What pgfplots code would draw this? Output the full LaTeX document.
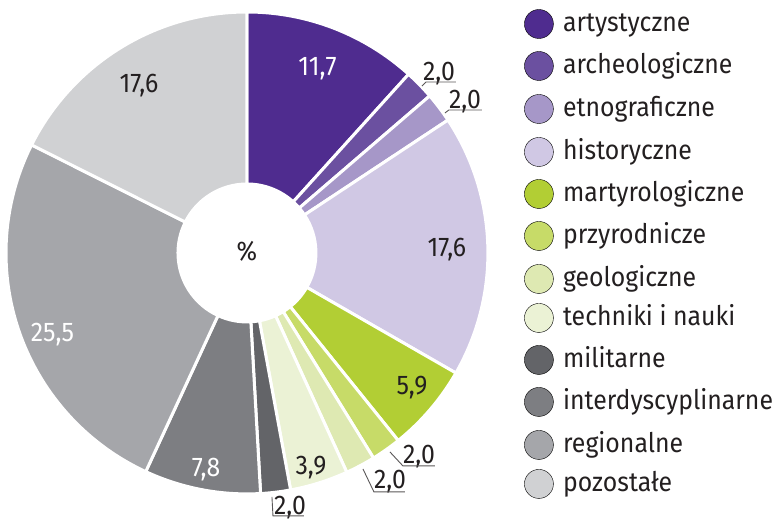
\documentclass[border=0pt]{standalone}
\usepackage{pgfplots}
\usepackage{pgfplotstable}
\pgfplotsset{compat=1.18}
\usepackage{fontspec}
\setmainfont{Fira Sans}[FakeStretch=0.92]

\definecolor{c1}{HTML}{4F2C8F}
\definecolor{c2}{HTML}{6B50A0}
\definecolor{c3}{HTML}{A697C8}
\definecolor{c4}{HTML}{D0C8E4}
\definecolor{c5}{HTML}{B2CE34}
\definecolor{c6}{HTML}{C7DB68}
\definecolor{c7}{HTML}{DEE9B2}
\definecolor{c8}{HTML}{EBF2D5}
\definecolor{c9}{HTML}{636468}
\definecolor{c10}{HTML}{7D7E82}
\definecolor{c11}{HTML}{A5A6AA}
\definecolor{c12}{HTML}{D0D1D3}
\definecolor{txt}{HTML}{231F20}

\pgfplotstableread{
value col
11.7 c1
2.0  c2
2.0  c3
17.6 c4
5.9  c5
2.0  c6
2.0  c7
3.9  c8
2.0  c9
7.8  c10
25.5 c11
17.6 c12
}\piedata

\newcommand\cx{247}
\newcommand\cy{270}
\newcommand\Ro{241}
\newcommand\Ri{69}

\begin{document}
\begin{tikzpicture}
\begin{axis}[x=1pt,y=1pt,xmin=0,xmax=773,ymin=0,ymax=523,
  hide axis,clip=false]
\path (axis cs:0,0) (axis cs:773,523);
\def\cum{0}
\pgfplotsforeachungrouped \i in {0,...,11}{%
  \pgfplotstablegetelem{\i}{value}\of\piedata
  \let\val\pgfplotsretval
  \pgfplotstablegetelem{\i}{col}\of\piedata
  \let\col\pgfplotsretval
  \pgfmathsetmacro\aone{90-3.6*\cum}%
  \pgfmathsetmacro\cum{\cum+\val}%
  \global\let\cum\cum
  \pgfmathsetmacro\atwo{90-3.6*\cum}%
  \edef\cmd{\noexpand\fill[fill=\col, draw=white, line width=3pt, line join=miter]
    (axis cs:{\cx+\Ro*cos(\aone)},{\cy+\Ro*sin(\aone)})
    arc[start angle=\aone, end angle=\atwo, radius=\Ro pt]
    -- (axis cs:{\cx+\Ri*cos(\atwo)},{\cy+\Ri*sin(\atwo)})
    arc[start angle=\atwo, end angle=\aone, radius=\Ri pt] -- cycle;}%
  \cmd
}

% value labels
\begin{scope}[every node/.style={font=\fontsize{27}{32}\selectfont, inner sep=0pt}]
\node[anchor=base, white] at (axis cs:317.5,447) {11,7};
\node[anchor=base, txt] at (axis cs:447,266) {17,6};
\node[anchor=base, txt] at (axis cs:412,128) {5,9};
\node[anchor=base, txt] at (axis cs:311,48) {3,9};
\node[anchor=base, white] at (axis cs:206,46) {7,8};
\node[anchor=base, white] at (axis cs:52.5,181) {25,5};
\node[anchor=base, txt] at (axis cs:139,430) {17,6};
\node[anchor=center, txt] at (axis cs:247,272) {\%};
% small labels
\node[anchor=base west, txt] at (axis cs:423,442) {2,0};
\node[anchor=base west, txt] at (axis cs:449,414) {2,0};
\node[anchor=base west, txt] at (axis cs:403,59) {2,0};
\node[anchor=base west, txt] at (axis cs:374,34) {2,0};
\node[anchor=base west, txt] at (axis cs:274,8) {2,0};
\end{scope}
\begin{scope}[line width=0.9pt, draw=txt!75]
\draw (axis cs:422,437) -- (axis cs:426,441) -- (axis cs:456,441);
\draw (axis cs:445,410) -- (axis cs:449,413) -- (axis cs:482,413);
\draw (axis cs:390,71) -- (axis cs:403,57) -- (axis cs:435,57);
\draw (axis cs:363,54) -- (axis cs:374,31) -- (axis cs:405,31);
\draw (axis cs:272,26) -- (axis cs:273,7) -- (axis cs:304,7);
\end{scope}

% legend markers
\addplot[only marks, mark=*, mark size=14.5pt, mark options={fill=c1, draw=none}] coordinates {(539,499)};
\addplot[only marks, mark=*, mark size=14.5pt, mark options={fill=c2, draw=none}] coordinates {(539,457)};
\addplot[only marks, mark=*, mark size=14.5pt, mark options={fill=c3, draw=none}] coordinates {(539,414)};
\addplot[only marks, mark=*, mark size=14.5pt, mark options={fill=c4, draw=none}] coordinates {(539,371)};
\addplot[only marks, mark=*, mark size=14.5pt, mark options={fill=c5, draw=none}] coordinates {(539,329)};
\addplot[only marks, mark=*, mark size=14.5pt, mark options={fill=c6, draw=none}] coordinates {(539,287)};
\addplot[only marks, mark=*, mark size=14.5pt, mark options={fill=c7, draw=none}] coordinates {(539,244)};
\addplot[only marks, mark=*, mark size=14.5pt, mark options={fill=c8, draw=none}] coordinates {(539,205)};
\addplot[only marks, mark=*, mark size=14.5pt, mark options={fill=c9, draw=none}] coordinates {(539,163)};
\addplot[only marks, mark=*, mark size=14.5pt, mark options={fill=c10, draw=none}] coordinates {(539,121)};
\addplot[only marks, mark=*, mark size=14.5pt, mark options={fill=c11, draw=none}] coordinates {(539,78)};
\addplot[only marks, mark=*, mark size=14.5pt, mark options={fill=c12, draw=none}] coordinates {(539,39)};

\begin{scope}[every node/.style={font=\fontsize{27}{32}\selectfont, inner sep=0pt, anchor=base west, txt}]
\node at (axis cs:563,491.5) {artystyczne};
\node at (axis cs:563,449.5) {archeologiczne};
\node at (axis cs:563,406.5) {etnograficzne};
\node at (axis cs:563,363.5) {historyczne};
\node at (axis cs:563,321.5) {martyrologiczne};
\node at (axis cs:563,279.5) {przyrodnicze};
\node at (axis cs:563,236.5) {geologiczne};
\node at (axis cs:563,197.5) {techniki i nauki};
\node at (axis cs:563,155.5) {militarne};
\node at (axis cs:563,113.5) {interdyscyplinarne};
\node at (axis cs:563,70.5) {regionalne};
\node at (axis cs:563,31.5) {pozostałe};
\end{scope}
\end{axis}
\end{tikzpicture}
\end{document}
